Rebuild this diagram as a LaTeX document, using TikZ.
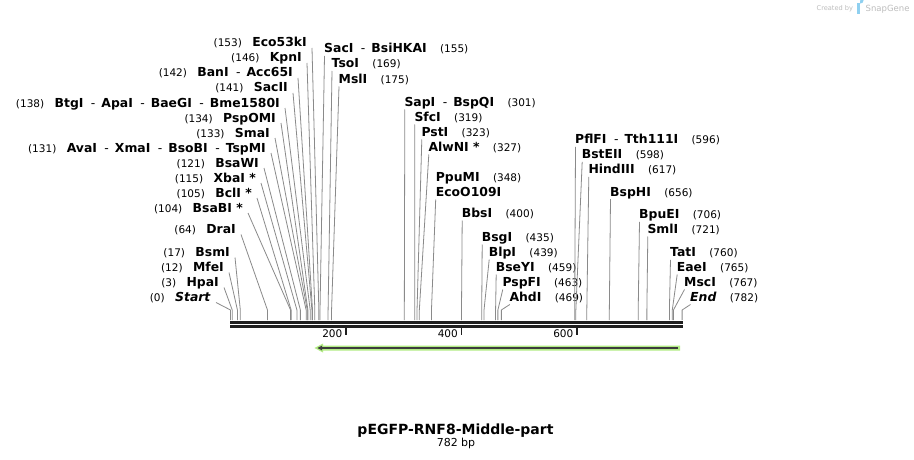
\documentclass[tikz,border=0pt]{standalone}
\usepackage{fontspec}
\setmainfont{DejaVu Sans}
\usetikzlibrary{calc}
\definecolor{conn}{HTML}{8A8A8A}
\definecolor{featgreen}{HTML}{B2EC84}
\definecolor{featdark}{HTML}{3C3C3C}
\definecolor{logogray}{HTML}{BDBDBD}
\definecolor{logoblue}{HTML}{8FD0F0}
\newcommand{\enzb}[1]{\textbf{#1}}
\newcommand{\sepr}{\hspace{7.5pt}-\hspace{6pt}}
\newcommand{\bpx}[1]{230.5+0.5775*#1}
\tikzset{
  enzname/.style={inner sep=0pt, font=\fontsize{12.4}{14}\selectfont},
  bpnum/.style={inner sep=0pt, font=\fontsize{10.5}{12}\selectfont},
  conline/.style={draw=conn, line width=0.8pt},
  backbone/.style={line width=2.6pt, draw=black!88},
}
% left label: id, east x, centre y, name, bp
\newcommand{\llab}[5]{%
  \node[enzname, anchor=base east] (#1) at (#2,#3+4.5) {#4};
  \node[bpnum, anchor=base east] (#1n) at ($(#1.base west)+(-10,0)$) {(#5)};
  \coordinate (#1k) at ({\bpx{#5}},310);
  \coordinate (#1s) at ({\bpx{#5}},320);
  \draw[conline] ($(#1.base east)+(5,1)$) -- (#1k) -- (#1s);
}
% right label: id, west x, centre y, name, bp
\newcommand{\rlab}[5]{%
  \node[enzname, anchor=base west] (#1) at (#2,#3+4.5) {#4};
  \node[bpnum, anchor=base west] (#1n) at ($(#1.base east)+(13,0)$) {(#5)};
  \coordinate (#1k) at ({\bpx{#5}},310);
  \coordinate (#1s) at ({\bpx{#5}},320);
  \draw[conline] ($(#1.base west)+(0.5,3)$) -- (#1k) -- (#1s);
}
\begin{document}
\begin{tikzpicture}[x=1pt,y=-1pt]
\path[use as bounding box, fill=white] (0,0) rectangle (914,460);

% logo
\node[font=\fontsize{6.6}{7}\selectfont, text=logogray, anchor=base west, inner sep=0pt] (createdby) at (816.5,10.5) {Created by};
\fill[logoblue] (857,3.5) rectangle (859.5,14);
\fill[logoblue] (859.5,3.5) -- (860.5,3.5) arc[start angle=90, end angle=-90, radius=3] -- (859.5,9.5) -- cycle;
\node[font=\fontsize{8.5}{9}\selectfont, text=logogray, anchor=base west, inner sep=0pt] (snapgene) at (865.5,11.5) {SnapGene};

% backbone
\draw[backbone] (230,322.2) -- (683,322.2);
\draw[backbone] (230,326.3) -- (683,326.3);
\foreach \v in {200,400,600}{
  \draw[line width=1.8pt, draw=black!88] ({\bpx{\v}},327.5) -- ({\bpx{\v}},334.5);
  \node[bpnum, anchor=base east] (tick\v) at ({\bpx{\v}-3.5},337.5) {\v};
}

% feature arrow
\fill[featgreen] (680,345.5) -- (323,345.5) -- (323,343.5) -- (314.5,348) -- (323,352.5) -- (323,350.5) -- (680,350.5) -- cycle;
\draw[featdark, line width=1.6pt] (677.5,348) -- (321,348);
\fill[featdark] (317.5,348) -- (322,345.6) -- (322,350.4) -- cycle;

% left labels
\llab{eco}{307}{42.5}{\enzb{Eco53kI}}{153}
\llab{kpn}{302}{57.5}{\enzb{KpnI}}{146}
\llab{ban}{293}{72.5}{\enzb{BanI}\sepr\enzb{Acc65I}}{142}
\llab{sacii}{288}{87.5}{\enzb{SacII}}{141}
\llab{btg}{280}{102.5}{\enzb{BtgI}\sepr\enzb{ApaI}\sepr\enzb{BaeGI}\sepr\enzb{Bme1580I}}{138}
\llab{pspo}{276}{117.5}{\enzb{PspOMI}}{134}
\llab{sma}{270}{132.5}{\enzb{SmaI}}{133}
\llab{ava}{266}{147.5}{\enzb{AvaI}\sepr\enzb{XmaI}\sepr\enzb{BsoBI}\sepr\enzb{TspMI}}{131}
\llab{bsaw}{259}{162.5}{\enzb{BsaWI}}{121}
\llab{xba}{256}{177.5}{\enzb{XbaI *}}{115}
\llab{bcl}{252}{192.5}{\enzb{BclI *}}{105}
\llab{bsab}{243}{207.5}{\enzb{BsaBI *}}{104}
\llab{dra}{236}{229}{\enzb{DraI}}{64}
\llab{bsm}{230}{252}{\enzb{BsmI}}{17}
\llab{mfe}{224}{267}{\enzb{MfeI}}{12}
\llab{hpa}{219}{282}{\enzb{HpaI}}{3}
\llab{start}{211}{297}{\enzb{\itshape Start}}{0}

% right labels
\rlab{sac}{324}{48.5}{\enzb{SacI}\sepr\enzb{BsiHKAI}}{155}
\rlab{tso}{331.5}{63.5}{\enzb{TsoI}}{169}
\rlab{msl}{338.5}{79}{\enzb{MslI}}{175}
\rlab{sap}{404.3}{102}{\enzb{SapI}\sepr\enzb{BspQI}}{301}
\rlab{sfc}{414.3}{117}{\enzb{SfcI}}{319}
\rlab{pst}{421.3}{132}{\enzb{PstI}}{323}
\rlab{alw}{428.3}{147}{\enzb{AlwNI *}}{327}
\node[enzname, anchor=base west] (ppu) at (435.7,181.5) {\enzb{PpuMI}};
\node[bpnum, anchor=base west] (ppun) at ($(ppu.base east)+(13,0)$) {(348)};
\node[enzname, anchor=base west] (ecoo) at (435.7,196.5) {\enzb{EcoO109I}};
\coordinate (ecook) at ({\bpx{348}},310);
\coordinate (ecoos) at ({\bpx{348}},320);
\draw[conline] ($(ecoo.base west)+(0,3)$) -- (ecook) -- (ecoos);
\rlab{bbs}{461.7}{213}{\enzb{BbsI}}{400}
\rlab{bsg}{481.7}{237}{\enzb{BsgI}}{435}
\rlab{blp}{488.7}{252}{\enzb{BlpI}}{439}
\rlab{bsey}{495.7}{267}{\enzb{BseYI}}{459}
\rlab{pspf}{502.3}{282}{\enzb{PspFI}}{463}
\rlab{ahd}{509.3}{297}{\enzb{AhdI}}{469}
\rlab{pfl}{575}{139.3}{\enzb{PflFI}\sepr\enzb{Tth111I}}{596}
\rlab{bste}{581.7}{154.3}{\enzb{BstEII}}{598}
\rlab{hind}{588.3}{169.3}{\enzb{HindIII}}{617}
\rlab{bsph}{610}{191.7}{\enzb{BspHI}}{656}
\rlab{bpue}{639}{214.3}{\enzb{BpuEI}}{706}
\rlab{sml}{647.3}{229}{\enzb{SmlI}}{721}
\rlab{tat}{670}{252.3}{\enzb{TatI}}{760}
\rlab{eae}{676.7}{267}{\enzb{EaeI}}{765}
\rlab{msc}{684}{282}{\enzb{MscI}}{767}
\rlab{endl}{690}{297}{\enzb{\itshape End}}{782}

% title
\node[font=\fontsize{14}{16}\selectfont\bfseries, anchor=base, inner sep=0pt] (title) at (455.5,434.5) {pEGFP-RNF8-Middle-part};
\node[font=\fontsize{11}{13}\selectfont, anchor=base, inner sep=0pt] (size) at (456,446.5) {782 bp};
\end{tikzpicture}
\end{document}
